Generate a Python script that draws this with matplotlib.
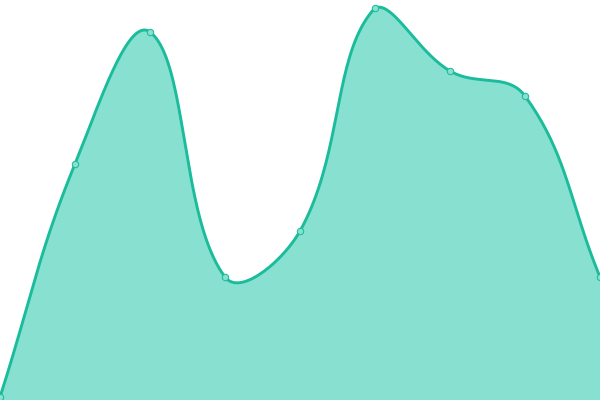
import numpy as np
import matplotlib
matplotlib.use("Agg")
import matplotlib.pyplot as plt

# Data (plot area 600 x 400)
x_vals = [0, 75, 150, 225, 300, 375, 450, 525, 600]
y_vals = [3, 236, 368, 123, 169, 392, 329, 304, 123]

line_color = "#1abc9c"
fill_color = "#88e0d0"
TENSION = 0.4
W, H = 600, 400


def spline_controls(p0, p1, p2, t):
    # control points of one point, tension spline weighted by distances
    d01 = np.hypot(*(p1 - p0))
    d12 = np.hypot(*(p2 - p1))
    s01 = d01 / (d01 + d12) if d01 + d12 > 0 else 0
    s12 = d12 / (d01 + d12) if d01 + d12 > 0 else 0
    prev = p1 - t * s01 * (p2 - p0)
    nxt = p1 + t * s12 * (p2 - p0)
    return prev, nxt


def smooth_line(xs, ys, steps=40):
    pts = np.column_stack([xs, ys]).astype(float)
    n = len(pts)
    prevs, nexts = [], []
    for i in range(n):
        p0 = pts[i - 1] if i > 0 else pts[i]
        p2 = pts[i + 1] if i < n - 1 else pts[i]
        a, b = spline_controls(p0, pts[i], p2, TENSION)
        # keep control points inside the drawing area
        a = np.clip(a, [0, 0], [W, H])
        b = np.clip(b, [0, 0], [W, H])
        prevs.append(a)
        nexts.append(b)
    t = np.linspace(0, 1, steps, endpoint=False)[:, None]
    out = []
    for i in range(n - 1):
        p1, c1, c2, p2 = pts[i], nexts[i], prevs[i + 1], pts[i + 1]
        out.append((1 - t) ** 3 * p1 + 3 * (1 - t) ** 2 * t * c1
                   + 3 * (1 - t) * t ** 2 * c2 + t ** 3 * p2)
    out.append(pts[-1:])
    curve = np.vstack(out)
    return curve[:, 0], curve[:, 1]


sx, sy = smooth_line(x_vals, y_vals)

fig = plt.figure(figsize=(6, 4), dpi=100)
ax = fig.add_axes([0, 0, 1, 1])
ax.fill_between(sx, 0, sy, color=fill_color, linewidth=0)
ax.plot(sx, sy, color=line_color, linewidth=2.1, solid_capstyle="round")
ax.plot(x_vals, y_vals, "o", markersize=4.6, markerfacecolor=fill_color,
        markeredgecolor=line_color, markeredgewidth=0.75, clip_on=False)
ax.set_xlim(0, W)
ax.set_ylim(0, H)
ax.axis("off")
fig.savefig("out.png", dpi=100)
